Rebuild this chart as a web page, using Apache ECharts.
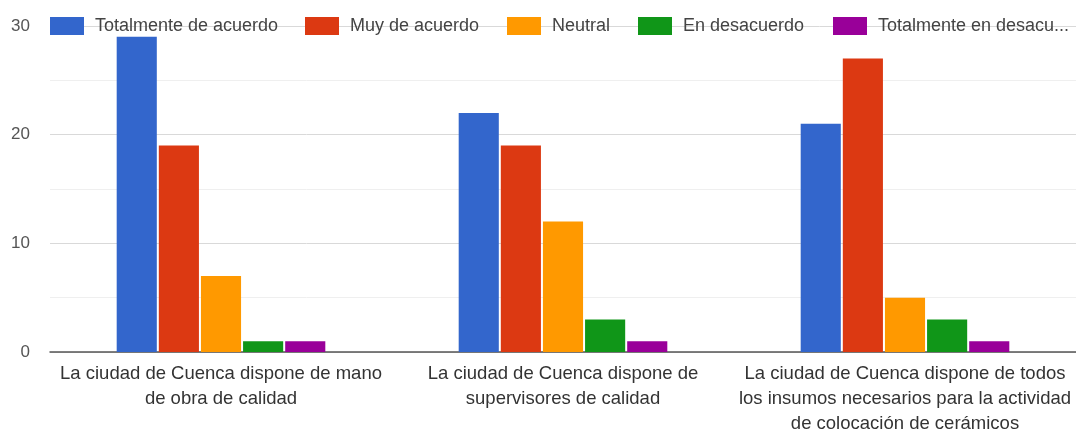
<!DOCTYPE html>
<html>
<head>
<meta charset="utf-8">
<script src="https://cdn.jsdelivr.net/npm/echarts@6/dist/echarts.min.js"></script>
<style>
html,body{margin:0;padding:0;background:#fff;}
#chart{width:1076px;height:438px;}
</style>
</head>
<body>
<div id="chart"></div>
<script>
const categories = [
  "La ciudad de Cuenca dispone de mano\nde obra de calidad",
  "La ciudad de Cuenca dispone de\nsupervisores de calidad",
  "La ciudad de Cuenca dispone de todos\nlos insumos necesarios para la actividad\nde colocación de cerámicos"
];
const seriesNames = ["Totalmente de acuerdo", "Muy de acuerdo", "Neutral", "En desacuerdo", "Totalmente en desacuerdo"];
const totalmenteDeAcuerdo = [29, 22, 21];
const muyDeAcuerdo = [19, 19, 27];
const neutral = [7, 12, 5];
const enDesacuerdo = [1, 3, 3];
const totalmenteEnDesacuerdo = [1, 1, 1];
const yTicks = { min: 0, max: 30, interval: 10 };

const seriesValues = [totalmenteDeAcuerdo, muyDeAcuerdo, neutral, enDesacuerdo, totalmenteEnDesacuerdo];
const colors = ["#3366cc", "#dc3912", "#ff9900", "#109618", "#990099"];
const legendLefts = [50, 305, 507, 638, 833];
const FONT = "Liberation Sans, Arial, sans-serif";

const chart = echarts.init(document.getElementById('chart'));
const legends = seriesNames.map((n, i) => ({
  data: [n],
  left: legendLefts[i],
  top: 17,
  itemWidth: 34,
  itemHeight: 18,
  icon: 'rect',
  padding: 0,
  textStyle: Object.assign({
    fontFamily: FONT, fontSize: 18, color: '#444', padding: [0, 0, 0, 6]
  }, i === 4 ? { width: 199, overflow: 'truncate', ellipsis: '...' } : {})
}));

chart.setOption({
  animation: false,
  color: colors,
  legend: legends,
  grid: { left: 50, right: 0, top: 26, bottom: 86, containLabel: false },
  xAxis: {
    type: 'category',
    data: categories,
    axisTick: { show: false },
    axisLine: { lineStyle: { color: '#555', width: 1.5 } },
    axisLabel: { fontFamily: FONT, fontSize: 18.5, color: '#333', lineHeight: 25, margin: 9, interval: 0 }
  },
  yAxis: {
    type: 'value',
    min: yTicks.min, max: yTicks.max, interval: yTicks.interval,
    axisLine: { show: false },
    axisTick: { show: false },
    axisLabel: { fontFamily: FONT, fontSize: 17, color: '#555', margin: 20 },
    splitLine: { lineStyle: { color: '#d9d9d9', width: 1 } },
    minorTick: { show: false, splitNumber: 2 },
    minorSplitLine: { show: true, lineStyle: { color: '#efefef', width: 1 } }
  },
  series: seriesNames.map((n, i) => ({
    name: n,
    type: 'bar',
    data: seriesValues[i],
    barGap: '5%',
    barCategoryGap: '39%',
    itemStyle: { color: colors[i] }
  }))
});
</script>
</body>
</html>
